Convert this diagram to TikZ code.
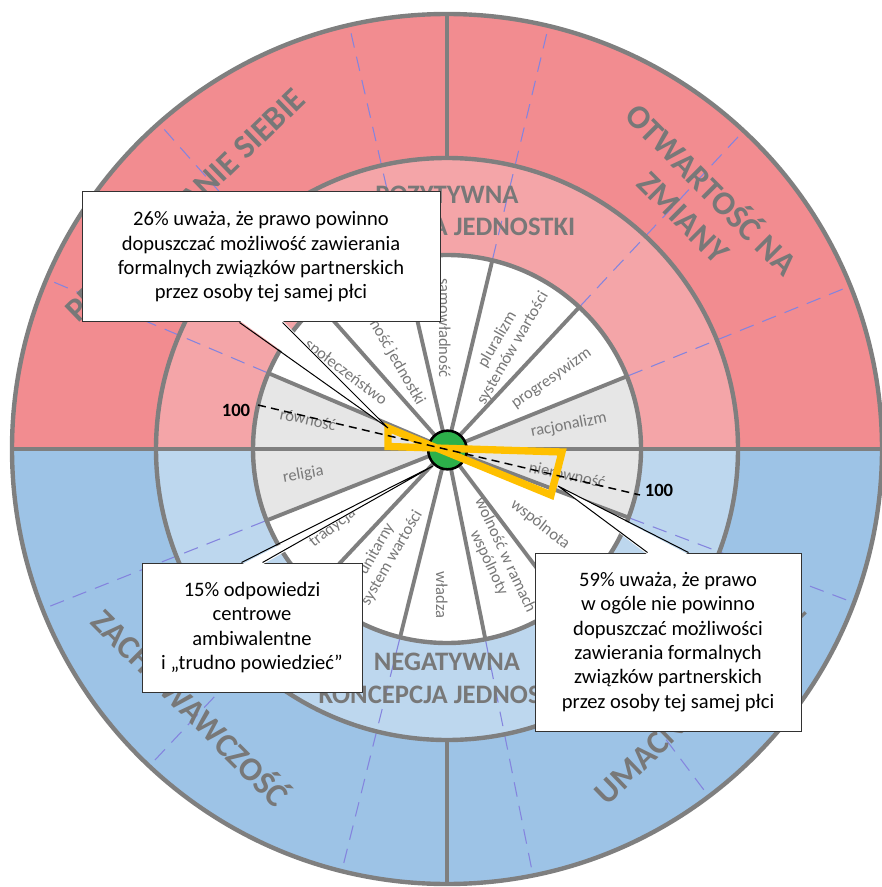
\documentclass[tikz,border=0pt]{standalone}
\usepackage{fontspec}
\setmainfont{Carlito}
\usetikzlibrary{calc}

\definecolor{outerred}{RGB}{242,140,144}
\definecolor{innerred}{RGB}{244,165,168}
\definecolor{outerblue}{RGB}{157,195,230}
\definecolor{innerblue}{RGB}{189,215,238}
\definecolor{sectorgrey}{RGB}{230,230,230}
\definecolor{linegrey}{RGB}{127,127,127}
\definecolor{labelgrey}{RGB}{120,120,120}
\definecolor{dashblue}{RGB}{132,132,222}
\definecolor{markyellow}{RGB}{255,192,0}
\definecolor{hubgreen}{RGB}{44,176,74}

\tikzset{every picture/.style={line width=0.75pt}}
\tikzset{
  ringline/.style={draw=linegrey, line width=3.3pt},
  spoke/.style={draw=linegrey, line width=2.9pt},
  boundary/.style={draw=dashblue, line width=0.8pt, dash pattern=on 11pt off 7pt},
  sectorlabel/.style={text=labelgrey, font=\fontsize{12.4}{13.4}\selectfont, align=center, inner sep=0pt},
  ringlabel/.style={text=labelgrey, font=\bfseries\fontsize{20}{24.5}\selectfont, align=center, inner sep=0pt},
  quadlabel/.style={text=labelgrey, font=\bfseries\fontsize{25}{29.5}\selectfont, align=center, inner sep=0pt},
  scorelabel/.style={font=\bfseries\fontsize{14}{16}\selectfont, inner sep=0pt},
  calloutbox/.style={draw={rgb, 255:red, 50; green, 50; blue, 50}, line width=0.75pt, fill=white, align=center, inner sep=2pt, font=\fontsize{15.4}{18.3}\selectfont},
  pointer/.style={draw=black, line width=0.75pt},
  hub/.style={circle, draw=black, line width=1.9pt, fill=hubgreen, minimum size=29pt, inner sep=0pt},
  yellowmark/.style={draw=markyellow, line width=5.5pt, line join=miter},
  axisline/.style={draw=black, line width=1.1pt, dash pattern=on 6pt off 4pt}
}

\begin{document}
\begin{tikzpicture}[x=0.75pt,y=0.75pt,yscale=-1,xscale=1]
\useasboundingbox (0,0) rectangle (881,887);

\begin{scope}[shift={(447,449)},yscale=-1]
%Shape: Rings
\fill[outerred] (0:435) arc[start angle=0, end angle=180, radius=435] -- cycle;
\fill[outerblue] (180:435) arc[start angle=180, end angle=360, radius=435] -- cycle;
\fill[innerred] (0:291) arc[start angle=0, end angle=180, radius=291] -- cycle;
\fill[innerblue] (180:291) arc[start angle=180, end angle=360, radius=291] -- cycle;
\fill[white] (0,0) circle[radius=194];
%Shape: Sectors
\fill[sectorgrey] (0,0) -- (0:194) arc[start angle=0, end angle=22, radius=194] -- cycle;
\fill[sectorgrey] (0,0) -- (157:194) arc[start angle=157, end angle=180, radius=194] -- cycle;
\fill[sectorgrey] (0,0) -- (180:194) arc[start angle=180, end angle=201.6, radius=194] -- cycle;
\fill[sectorgrey] (0,0) -- (-20.7:194) arc[start angle=-20.7, end angle=0, radius=194] -- cycle;

%Straight Lines (dashed boundaries)
\draw[boundary] (22:196) -- (22:433);
\draw[boundary] (47:196) -- (47:433);
\draw[boundary] (76.5:196) -- (76.5:433);
\draw[boundary] (103:196) -- (103:433);
\draw[boundary] (131.5:196) -- (131.5:433);
\draw[boundary] (157:196) -- (157:433);
\draw[boundary] (-20.7:196) -- (-20.7:433);
\draw[boundary] (-53:196) -- (-53:433);
\draw[boundary] (-78.6:196) -- (-78.6:433);
\draw[boundary] (-104:196) -- (-104:433);
\draw[boundary] (-133.2:196) -- (-133.2:433);
\draw[boundary] (-158.4:196) -- (-158.4:433);

%Straight Lines (spokes)
\draw[spoke] (0,0) -- (22:194);
\draw[spoke] (0,0) -- (47:194);
\draw[spoke] (0,0) -- (76.5:194);
\draw[spoke] (0,0) -- (103:194);
\draw[spoke] (0,0) -- (131.5:194);
\draw[spoke] (0,0) -- (157:194);
\draw[spoke] (0,0) -- (-20.7:194);
\draw[spoke] (0,0) -- (-53:194);
\draw[spoke] (0,0) -- (-78.6:194);
\draw[spoke] (0,0) -- (-104:194);
\draw[spoke] (0,0) -- (-133.2:194);
\draw[spoke] (0,0) -- (-158.4:194);

%Shape: Circles
\draw[ringline] (0,0) circle[radius=435];
\draw[ringline] (0,0) circle[radius=291];
\draw[ringline] (0,0) circle[radius=194];
\draw[ringline] (180:435) -- (0:435);
\draw[ringline] (90:291) -- (90:435);
\draw[ringline] (-90:291) -- (-90:435);

% Text Node
\draw (11:124) node[sectorlabel, rotate=11] (lblracjo) {racjonalizm};
% Text Node
\draw (34:126) node[sectorlabel, rotate=35] (lblprogres) {progresywizm};
% Text Node
\draw (61:120) node[sectorlabel, rotate=60] (lblplural) {pluralizm\\systemów wartości};
% Text Node
\draw (91:121) node[sectorlabel, rotate=-90] (lblsamow) {samowładność};
% Text Node
\draw (120:112) node[sectorlabel, rotate=-60] (lblwoljed) {wolność jednostki};
% Text Node
\draw (143:127) node[sectorlabel, rotate=-37] (lblspol) {społeczeństwo};
% Text Node
\draw (168:142) node[sectorlabel, rotate=-12] (lblrown) {równość};
% Text Node
\draw (-170:146) node[sectorlabel, rotate=10] (lblrelig) {religia};
% Text Node
\draw (-145.5:139) node[sectorlabel, rotate=38] (lbltrad) {tradycja};
% Text Node
\draw (-121:122) node[sectorlabel, rotate=60] (lblunit) {unitarny\\system wartości};
% Text Node
\draw (-92:146) node[sectorlabel, rotate=-90] (lblwladza) {władza};
% Text Node
\draw (-65.6:121) node[sectorlabel, rotate=-65] (lblwolwsp) {wolność w ramach\\wspólnoty};
% Text Node
\draw (-39:120) node[sectorlabel, rotate=-38] (lblwspol) {wspólnota};
% Text Node
\draw (-12:123) node[sectorlabel, rotate=-12] (lblnierown) {nierówność};

% Text Node
\draw (0,238) node[ringlabel] (ringpos) {POZYTYWNA\\KONCEPCJA JEDNOSTKI};
% Text Node
\draw (0,-229.5) node[ringlabel] (ringneg) {NEGATYWNA\\KONCEPCJA JEDNOSTKI};

% Text Node
\draw (137:358) node[quadlabel, rotate=44] (quadps) {PRZEKRACZANIE SIEBIE};
% Text Node
\draw (44.4:353) node[quadlabel, rotate=-45] (quadoz) {OTWARTOŚĆ NA\\ZMIANY};
% Text Node
\draw (-134.7:362) node[quadlabel, rotate=-45] (quadzach) {ZACHOWAWCZOŚĆ};
% Text Node
\draw (-45:358) node[quadlabel, rotate=44] (quadum) {UMACNIANIE SIEBIE};

%Shape: Circle
\draw (0.5,-1) node[hub] (hub) {};
\end{scope}

%Shape: Polygon
\coordinate (yel1) at (388,428);
\coordinate (yel2) at (388,446.5);
\coordinate (yel3) at (562,452);
\coordinate (yel4) at (551,495);
\draw[yellowmark] (yel1) -- (yel2) -- (yel3) -- (yel4) -- cycle;

%Straight Lines
\coordinate (axL) at (258,405);
\coordinate (axR) at (640,495);
\draw[axisline] (axL) -- (axR);
% Text Node
\draw (236,410) node[scorelabel] (hundredL) {100};
% Text Node
\draw (659,490) node[scorelabel] (hundredR) {100};

%Shape: Callout
\draw (261,257) node[calloutbox, minimum width=268.5pt, minimum height=97.5pt] (box26) {26\% uważa, że prawo powinno\\dopuszczać możliwość zawierania\\formalnych związków partnerskich\\przez osoby tej samej płci};
\coordinate (tip26) at (388,428);
\fill[white] ($(box26.south)+(-21.5,-2)$) -- (tip26) -- ($(box26.south)+(21.5,-2)$) -- cycle;
\draw[pointer] ($(box26.south)+(-21.5,0)$) -- (tip26) -- ($(box26.south)+(21.5,0)$);

%Shape: Callout
\draw (252,627.5) node[calloutbox, minimum width=165pt, minimum height=96.75pt] (box15) {15\% odpowiedzi\\centrowe\\ambiwalentne\\i „trudno powiedzieć”};
\coordinate (tip15) at (433,466);
\fill[white] ($(box15.north)+(-10.5,2)$) -- (tip15) -- ($(box15.north)+(10.5,2)$) -- cycle;
\draw[pointer] ($(box15.north)+(-10.5,0)$) -- (tip15) -- ($(box15.north)+(10.5,0)$);

%Shape: Callout
\draw (668,642) node[calloutbox, minimum width=199.5pt, minimum height=133.5pt] (box59) {59\% uważa, że prawo\\w ogóle nie powinno\\dopuszczać możliwości\\zawierania formalnych\\związków partnerskich\\przez osoby tej samej płci};
\coordinate (tip59) at (558,486);
\fill[white] ($(box59.north)+(-20.5,2)$) -- (tip59) -- ($(box59.north)+(20.5,2)$) -- cycle;
\draw[pointer] ($(box59.north)+(-20.5,0)$) -- (tip59) -- ($(box59.north)+(20.5,0)$);

\end{tikzpicture}
\end{document}
